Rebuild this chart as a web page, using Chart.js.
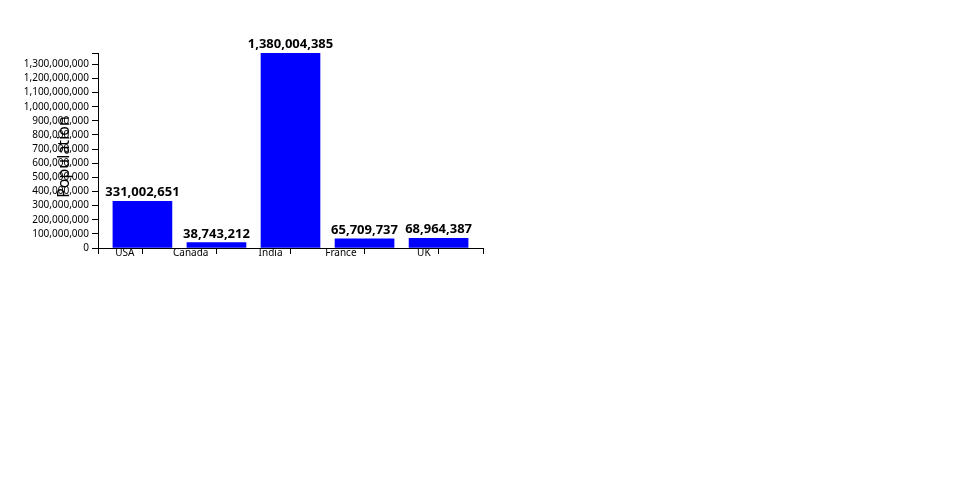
<!DOCTYPE html>
<html>
<head>
<meta charset="utf-8">
<script src="https://cdn.jsdelivr.net/npm/chart.js@4"></script>
<style>
  html, body { margin: 0; padding: 0; background: #fff; }
  canvas { display: block; }
</style>
</head>
<body>
<canvas id="chart" width="960" height="500"></canvas>
<script>
// Country populations
const countries = ['USA', 'Canada', 'India', 'France', 'UK'];
const populations = [331002651, 38743212, 1380004385, 65709737, 68964387];

// Y axis tick labels (every 100 million)
const yTickValues = [0, 100000000, 200000000, 300000000, 400000000, 500000000, 600000000,
  700000000, 800000000, 900000000, 1000000000, 1100000000, 1200000000, 1300000000];

const yTitle = 'Population';

const yMax = Math.max(...populations);
const fmt = v => v.toLocaleString('en-US');

// Draw the value above each bar, plus the rotated y axis title
const valueLabels = {
  id: 'valueLabels',
  afterDatasetsDraw(chart) {
    const ctx = chart.ctx;
    const meta = chart.getDatasetMeta(0);
    const area = chart.chartArea;
    ctx.save();
    ctx.font = 'bold 13px "Noto Sans"';
    ctx.fillStyle = '#000';
    ctx.textAlign = 'center';
    ctx.textBaseline = 'alphabetic';
    meta.data.forEach((bar, i) => {
      ctx.fillText(fmt(populations[i]), bar.x, bar.y - 5);
    });

    // y title sits a bit below the middle, overlapping the tick labels
    ctx.translate(area.left - 29.5, (area.top + area.bottom) / 2 + 6.5);
    ctx.rotate(-Math.PI / 2);
    ctx.font = '16px "Noto Sans"';
    ctx.fillText(yTitle, 0, 0);
    ctx.restore();
  }
};

new Chart(document.getElementById('chart').getContext('2d'), {
  type: 'bar',
  data: {
    datasets: [{
      label: yTitle,
      data: populations.map((v, i) => ({ x: i, y: v })),
      backgroundColor: '#0000ff',
      borderWidth: 0,
      barThickness: 59
    }]
  },
  options: {
    responsive: false,
    animation: false,
    layout: { padding: { left: 0, top: 53, right: 477, bottom: 232 } },
    plugins: {
      legend: { display: false },
      tooltip: { enabled: false }
    },
    scales: {
      x: {
        type: 'linear',
        min: -0.6,
        max: 4.6,
        offset: false,
        afterBuildTicks: scale => {
          scale.ticks = [-0.6].concat(countries.map((c, i) => i), [4.6]).map(v => ({ value: v }));
        },
        afterFit: scale => { scale.height = 20; },
        grid: { offset: false, drawOnChartArea: false, drawTicks: true, tickLength: 6, color: '#000' },
        border: { display: true, color: '#000' },
        ticks: {
          autoSkip: false,
          maxRotation: 0,
          align: 'end',
          labelOffset: -8,
          padding: -7,
          color: '#000',
          font: { family: 'Noto Sans', size: 10 },
          callback: v => Number.isInteger(v) ? countries[v] : ''
        }
      },
      y: {
        type: 'linear',
        min: 0,
        max: yMax,
        afterBuildTicks: scale => {
          scale.ticks = yTickValues.concat([yMax]).map(v => ({ value: v }));
        },
        afterFit: scale => { scale.width = 98; },
        grid: { drawOnChartArea: false, drawTicks: true, tickLength: 6, color: '#000' },
        border: { display: true, color: '#000' },
        ticks: {
          autoSkip: false,
          padding: 3,
          color: '#000',
          font: { family: 'Noto Sans', size: 10 },
          callback: v => yTickValues.includes(v) ? fmt(v) : ''
        }
      }
    }
  },
  plugins: [valueLabels]
});
</script>
</body>
</html>
